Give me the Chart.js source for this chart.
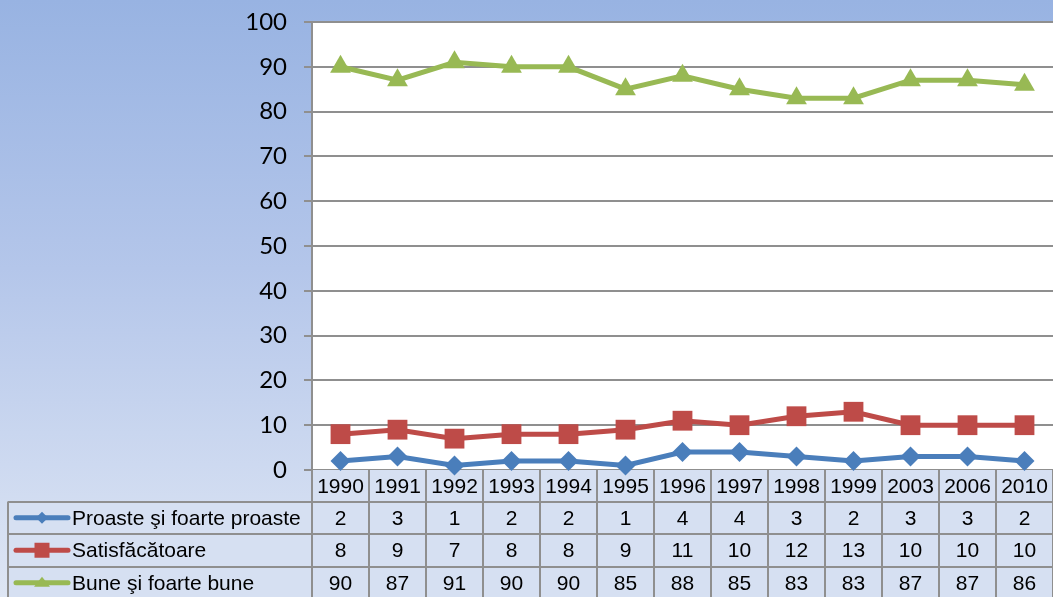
<!DOCTYPE html>
<html><head><meta charset="utf-8">
<script src="https://cdn.jsdelivr.net/npm/chart.js@4/dist/chart.umd.min.js"></script>
<style>
html,body{margin:0;padding:0;}
body{width:1053px;height:597px;overflow:hidden;background:linear-gradient(to bottom,#98b3e2 0%,#b4c6ea 45%,#dee6f4 100%);}
#wrap{position:absolute;left:0;top:0;width:1053px;height:597px;}
</style></head>
<body><div id="wrap"><canvas id="c" width="1053" height="597"></canvas></div>
<script>
const categories = ["1990","1991","1992","1993","1994","1995","1996","1997","1998","1999","2003","2006","2010"];
const proaste = [2,3,1,2,2,1,4,4,3,2,3,3,2];
const satisfacatoare = [8,9,7,8,8,9,11,10,12,13,10,10,10];
const bune = [90,87,91,90,90,85,88,85,83,83,87,87,86];
const yTicks = [0,10,20,30,40,50,60,70,80,90,100];
const seriesNames = ["Proaste şi foarte proaste","Satisfăcătoare","Bune şi foarte bune"];

const colors = ["#4a7ebb","#be4b48","#98b954"];
const styles = [
  {pointStyle:'rectRot', radius:10},
  {pointStyle:'rect', radius:14},
  {pointStyle:'triangle', radius:12}
];
const seriesData = [proaste, satisfacatoare, bune];

const tableFont = '21px "Liberation Sans", Arial, sans-serif';
const headerH = 31.5, rowH = 32.5, legendLeft = 8;

const bgPlugin = {
  id:'bg',
  beforeDraw(chart){
    const {ctx, chartArea:a} = chart;
    ctx.save();
    ctx.fillStyle = '#ffffff';
    ctx.fillRect(a.left, a.top, a.right-a.left, a.bottom-a.top);
    ctx.restore();
  }
};

const tablePlugin = {
  id:'table',
  beforeDatasetsDraw(chart){
    const {ctx, chartArea:a} = chart;
    const x = chart.scales.x;
    const n = categories.length;
    const half = (x.getPixelForValue(1)-x.getPixelForValue(0))/2;
    const top = a.bottom;
    const rowsTop = top + headerH;
    const bottom = rowsTop + rowH*3;
    ctx.save();
    ctx.fillStyle = '#d6e0f2';
    ctx.fillRect(a.left, top, a.right-a.left, bottom-top);
    ctx.fillRect(legendLeft, rowsTop, a.left-legendLeft, bottom-rowsTop);
    ctx.strokeStyle = '#8f8f8f';
    ctx.lineWidth = 2;
    ctx.beginPath();
    for (let i=0;i<=n;i++){
      const px = Math.round(x.getPixelForValue(i)-half);
      ctx.moveTo(px, top); ctx.lineTo(px, bottom);
    }
    ctx.moveTo(legendLeft, rowsTop); ctx.lineTo(legendLeft, bottom);
    for (let r=0;r<=3;r++){
      const py = Math.round(rowsTop + rowH*r);
      ctx.moveTo(legendLeft, py); ctx.lineTo(a.right, py);
    }
    ctx.stroke();
    ctx.fillStyle = '#000';
    ctx.font = tableFont;
    ctx.textAlign = 'center';
    ctx.textBaseline = 'middle';
    categories.forEach((c,i)=>{
      ctx.fillText(c, x.getPixelForValue(i), top + headerH/2 + 1);
    });
    seriesData.forEach((arr, r)=>{
      const cy = rowsTop + rowH*r + rowH/2 + 1;
      arr.forEach((v,i)=>{
        ctx.textAlign = 'center';
        ctx.fillText(String(v), x.getPixelForValue(i), cy);
      });
      const ly = cy - 1;
      ctx.strokeStyle = colors[r];
      ctx.lineWidth = 5;
      ctx.lineCap = 'round';
      ctx.beginPath(); ctx.moveTo(16, ly); ctx.lineTo(68, ly); ctx.stroke();
      ctx.fillStyle = colors[r];
      const mx = 42;
      ctx.beginPath();
      if (r===0){ ctx.moveTo(mx, ly-6); ctx.lineTo(mx+6, ly); ctx.lineTo(mx, ly+6); ctx.lineTo(mx-6, ly); ctx.closePath(); }
      else if (r===1){ ctx.rect(mx-7.5, ly-7.5, 15, 15); }
      else { ctx.moveTo(mx, ly-6); ctx.lineTo(mx+8, ly+4); ctx.lineTo(mx-8, ly+4); ctx.closePath(); }
      ctx.fill();
      ctx.fillStyle = '#000';
      ctx.textAlign = 'left';
      ctx.fillText(seriesNames[r], 72, cy);
    });
    ctx.restore();
  }
};

new Chart(document.getElementById('c'), {
  type:'line',
  data:{
    labels: categories,
    datasets: seriesData.map((d,i)=>({
      label: seriesNames[i],
      data: d,
      borderColor: colors[i],
      backgroundColor: colors[i],
      borderWidth: 5,
      pointStyle: styles[i].pointStyle,
      pointRadius: styles[i].radius,
      pointHoverRadius: styles[i].radius,
      pointBorderWidth: 0,
      tension: 0,
      clip: false
    }))
  },
  options:{
    responsive:false,
    animation:false,
    devicePixelRatio:1,
    layout:{autoPadding:false, padding:{top:22,left:0,right:0,bottom:0}},
    plugins:{legend:{display:false}, tooltip:{enabled:false}},
    scales:{
      x:{
        type:'category',
        offset:true,
        grid:{display:false},
        border:{display:true,color:'#8f8f8f',width:2},
        ticks:{display:false},
        afterFit(s){ s.height = 127; s.paddingLeft = 0; s.paddingRight = 0; }
      },
      y:{
        min:0,max:100,
        afterBuildTicks(s){ s.ticks = yTicks.map(v=>({value:v})); },
        grid:{color:'#8f8f8f', lineWidth:2, tickLength:8, drawTicks:true},
        border:{display:true,color:'#8f8f8f',width:2},
        ticks:{color:'#000', padding:17, font:{family:'Lato, "Open Sans", sans-serif', size:24}},
        afterFit(s){ s.width = 312; s.paddingTop = 0; s.paddingBottom = 0; }
      }
    }
  },
  plugins:[bgPlugin, tablePlugin]
});
</script></body></html>
